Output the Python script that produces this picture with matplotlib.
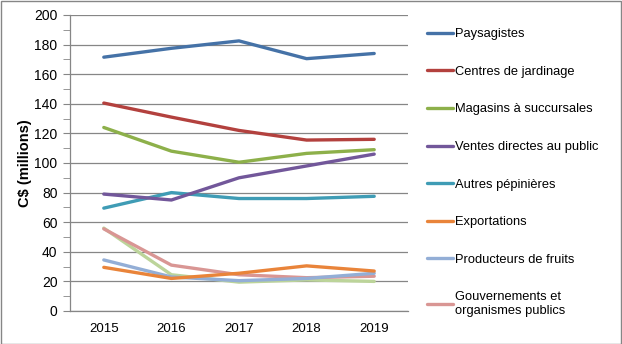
import matplotlib
matplotlib.use("Agg")
import matplotlib.pyplot as plt
from matplotlib.patches import Rectangle
from matplotlib.ticker import MultipleLocator

plt.rcParams['font.family'] = ['Liberation Sans', 'DejaVu Sans']

years = ["2015", "2016", "2017", "2018", "2019"]
paysagistes = [171.5, 177.5, 182.5, 170.5, 174]
centres = [140.5, 131, 122, 115.5, 116]
magasins = [124, 108, 100.5, 106.5, 109]
ventes = [79, 75, 90, 98, 106]
autres_pep = [69.5, 80, 76, 76, 77.5]
exportations = [29.5, 22, 25.5, 30.5, 27]
producteurs = [34.5, 23, 20.5, 22, 25.5]
gouvernements = [55.5, 31, 24.5, 22.5, 23.5]
autre_serie = [56, 24.5, 19.5, 21, 20]

series = [
    ("Paysagistes", paysagistes, "#4572A7"),
    ("Centres de jardinage", centres, "#B3413E"),
    ("Magasins à succursales", magasins, "#8DB04A"),
    ("Ventes directes au public", ventes, "#72579A"),
    ("Autres pépinières", autres_pep, "#3F9CB5"),
    ("Exportations", exportations, "#E9843A"),
    ("Producteurs de fruits", producteurs, "#93AED6"),
    ("Gouvernements et\norganismes publics", gouvernements, "#D99694"),
]

fig = plt.figure(figsize=(6.22, 3.44), dpi=100)
W, H = 622, 344
ax = fig.add_axes([70 / W, (H - 311) / H, (408 - 70) / W, (311 - 15) / H])

x = list(range(len(years)))
ax.plot(x, autre_serie, color="#BCD49A", lw=2.4, solid_capstyle="round",
        label="_nolegend_", zorder=2)
for name, vals, col in reversed(series):
    ax.plot(x, vals, color=col, lw=2.4, solid_capstyle="round", label=name, zorder=3)

ax.set_xlim(-0.5, len(years) - 0.5)
ax.set_ylim(0, 200)
ax.set_xticks(x)
ax.set_xticklabels(years)
ax.yaxis.set_major_locator(MultipleLocator(20))
ax.yaxis.set_minor_locator(MultipleLocator(10))
ax.grid(axis="y", which="major", color="#868686", lw=0.9)
ax.set_axisbelow(True)
for s in ["top", "right"]:
    ax.spines[s].set_visible(False)
for s in ["left", "bottom"]:
    ax.spines[s].set_color("#868686")
    ax.spines[s].set_linewidth(0.9)
ax.tick_params(axis="x", length=0, labelsize=9.5, pad=9)
ax.tick_params(axis="y", which="both", length=5, color="#868686", labelsize=10, pad=4)
ax.set_ylabel("C$ (millions)", fontsize=10.5, fontweight="bold")
ax.yaxis.set_label_coords(-0.113, 0.5)

handles, labels = ax.get_legend_handles_labels()
handles, labels = handles[::-1], labels[::-1]
leg = fig.legend(handles, labels, loc="upper left",
                 bbox_to_anchor=(422 / W, 1 - 23 / H), frameon=False,
                 fontsize=9.3, handlelength=2.0, handletextpad=0.15,
                 labelspacing=1.98, borderaxespad=0)

fig.patches.append(Rectangle((0.5 / W, 0.5 / H), 1 - 1.5 / W, 1 - 1.5 / H,
                             transform=fig.transFigure, fill=False,
                             edgecolor="#868686", lw=1))

fig.savefig("out.png", dpi=100)
